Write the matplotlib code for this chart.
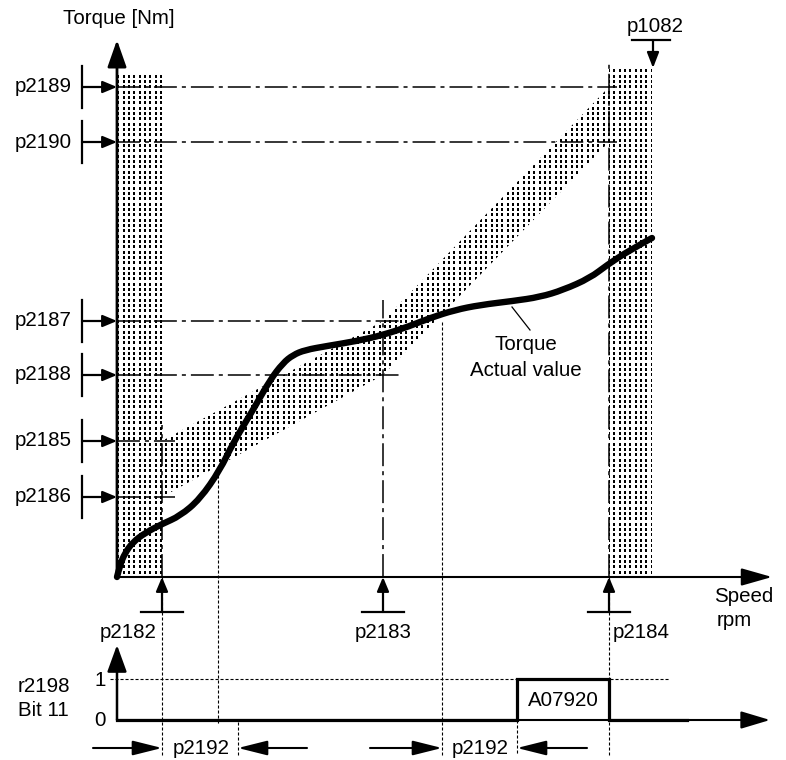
import numpy as np
import matplotlib
matplotlib.use("Agg")
import matplotlib.pyplot as plt
from matplotlib.patches import Polygon, PathPatch
from matplotlib.path import Path

plt.rcParams['font.family'] = ['Liberation Sans', 'DejaVu Sans']
plt.rcParams['lines.scale_dashes'] = False

# ---------------- data (schematic units: speed → x, torque → y) ----------------
torque_params = ["p2189", "p2190", "p2187", "p2188", "p2185", "p2186"]
torque_levels = [490, 435, 256, 202, 136, 80]
torque_line_ends = [500, 500, 283, 283, 58, 58]

speed_params = ["p2182", "p2183", "p2184"]
speed_levels = [45, 266, 492]
speed_max_param = "p1082"
speed_max = 535

# tolerance band corners (speed, lower torque, upper torque)
band_speed = [45, 266, 492]
band_upper = [136, 256, 490]
band_lower = [80, 202, 435]

# actual torque curve
curve_speed = [0, 3, 8, 16, 28, 45, 63, 83, 103, 116, 136, 153, 166, 176, 188, 210,
               240, 266, 293, 313, 338, 363, 396, 423, 446, 473, 490, 513, 535]
curve_torque = [0, 12, 24, 35, 44, 53, 61, 78, 107, 134, 167, 197, 214, 222, 227, 231,
                236, 242, 251, 259, 267, 272, 276, 280, 287, 299, 312, 327, 339]

# status bit r2198.11 (bottom diagram)
bit_speed = [0, 400, 400, 492, 492, 570]
bit_state = [0, 0, 1, 1, 0, 0]
alarm_text = "A07920"
delay_param = "p2192"
delay_windows = [(45, 121), (325, 400)]
crossing_speed = [101, 325]
crossing_torque = [107, 255]

# bottom diagram placement
BIT0 = -143
BIT_H = 41
BOT = -178

FS = 14.8
K = 'black'

fig = plt.figure(figsize=(7.86, 7.6), dpi=100)
ax = fig.add_axes([0, 0, 1, 1])
ax.axis('off')

def bit_y(v):
    return BIT0 + BIT_H * np.asarray(v, dtype=float)

# ---------------- stipple regions ----------------
H, W = 760, 786
tex = np.zeros((H, W, 4))
rr, cc = np.mgrid[0:H, 0:W]
on_r = np.isin(rr % 16, [0, 1, 2, 5, 6, 7, 11, 12, 13])
on_c = np.isin(cc % 16, [0, 1, 5, 6, 11, 12])
tex[on_r & on_c] = [0, 0, 0, 1]

regions = [
    [(0, 0), (46, 0), (46, 502), (0, 502)],
    [(speed_levels[2], 0), (speed_max, 0), (speed_max, 509), (speed_levels[2], 509)],
    list(zip(band_speed, band_upper)) + list(zip(band_speed[::-1], band_lower[::-1])),
]
for reg in regions:
    poly = Polygon(reg, closed=True, facecolor='none', edgecolor='none')
    ax.add_patch(poly)
    im = ax.imshow(tex, extent=(-117, 669, -183, 577), origin='upper',
                   interpolation='nearest', zorder=1, aspect='auto')
    im.set_clip_path(poly)

ax.set_xlim(-117, 669)
ax.set_ylim(-183, 577)

dashdot = (0, (16.5, 3.6, 2.9, 3.6))
dotted = (0, (2.2, 1.4))

def arrow(x0, y0, x1, y1, hl, hw, lw=1.5, z=5):
    ax.annotate('', xy=(x1, y1), xytext=(x0, y0),
                arrowprops=dict(arrowstyle=f'-|>,head_length={hl},head_width={hw}',
                                mutation_scale=10, lw=lw, color=K,
                                shrinkA=0, shrinkB=0), zorder=z)

# ---------------- torque thresholds ----------------
for name, lev, end in zip(torque_params, torque_levels, torque_line_ends):
    ax.plot([0, end], [lev, lev], color=K, lw=1.1, ls=dashdot, zorder=3)
    ax.plot([-35, -35], [lev - 21, lev + 21], color=K, lw=1.6, zorder=5)
    arrow(-35, lev, 0, lev, 0.86, 0.36, lw=1.6)
    ax.text(-45, lev, name, ha='right', va='center', fontsize=FS)

# ---------------- speed thresholds ----------------
vtops = [152, 277, 515]
for name, sp, top in zip(speed_params, speed_levels, vtops):
    ax.plot([sp, sp], [0, top], color=K, lw=1.1, ls=dashdot, zorder=3)
    ax.plot([sp - 21, sp + 21], [-35, -35], color=K, lw=1.6, zorder=5)
    arrow(sp, -35, sp, 0, 0.86, 0.36, lw=1.6)
ax.text(40, -55, speed_params[0], ha='right', va='center', fontsize=FS)
ax.text(266, -55, speed_params[1], ha='center', va='center', fontsize=FS)
ax.text(496, -55, speed_params[2], ha='left', va='center', fontsize=FS)

# p1082
ax.plot([515, 553], [537, 537], color=K, lw=1.6)
arrow(speed_max + 1, 537, speed_max + 1, 509, 0.93, 0.36, lw=1.6)
ax.text(538, 550, speed_max_param, ha='center', va='center', fontsize=FS)

# ---------------- axes ----------------
arrow(0, 0, 0, 537, 1.65, 0.58, lw=2.0, z=6)
arrow(0, 0, 655, 0, 1.9, 0.54, lw=1.5, z=6)
ax.text(2, 559, "Torque [Nm]", ha='center', va='center', fontsize=FS)
ax.text(597, -19, "Speed", ha='left', va='center', fontsize=FS)
ax.text(600, -43, "rpm", ha='left', va='center', fontsize=FS)

# ---------------- curve (smooth quadratic path through read points) ----------------
P = np.column_stack([curve_speed, curve_torque]).astype(float)
verts = [P[0]]
codes = [Path.MOVETO]
n = len(P)
for i in range(1, n - 1):
    end = P[i + 1] if i == n - 2 else (P[i] + P[i + 1]) / 2
    verts += [P[i], end]
    codes += [Path.CURVE3, Path.CURVE3]
ax.add_patch(PathPatch(Path(verts, codes), facecolor='none', edgecolor=K, lw=4.6,
                       capstyle='round', joinstyle='round', zorder=7))
ax.plot([395, 413], [270, 247], color=K, lw=0.9, zorder=7)
ax.text(409, 232, "Torque", ha='center', va='center', fontsize=FS)
ax.text(409, 207, "Actual value", ha='center', va='center', fontsize=FS)

# ---------------- thin dotted verticals ----------------
for sp in [speed_levels[0], speed_levels[2]]:
    ax.plot([sp, sp], [0, BOT], color=K, lw=0.8, ls=dotted, zorder=2)
ax.plot([crossing_speed[0]] * 2, [crossing_torque[0], BIT0 - 5], color=K, lw=0.8, ls=dotted, zorder=2)
ax.plot([crossing_speed[1]] * 2, [crossing_torque[1], BOT], color=K, lw=0.8, ls=dotted, zorder=2)
ax.plot([delay_windows[0][1]] * 2, [BIT0 - 2, BOT], color=K, lw=0.8, ls=dotted, zorder=2)
ax.plot([delay_windows[1][1]] * 2, [BIT0, BOT], color=K, lw=0.8, ls=dotted, zorder=2)

# ---------------- bottom bit diagram ----------------
arrow(0, BIT0, 0, BIT0 + 75, 1.65, 0.6, lw=1.8, z=6)
arrow(0, BIT0, 653, BIT0, 1.8, 0.54, lw=1.5, z=6)
ax.plot([-7, 553], [bit_y(1), bit_y(1)], color=K, lw=0.8, ls=dotted, zorder=2)
ax.plot(bit_speed, bit_y(bit_state), color=K, lw=2.3, zorder=7, solid_joinstyle='miter')
ax.text(446, BIT0 + 20, alarm_text, ha='center', va='center', fontsize=FS)
ax.text(-17, bit_y(1) - 2, "1", ha='center', va='center', fontsize=FS)
ax.text(-17, bit_y(0) - 1, "0", ha='center', va='center', fontsize=FS)
ax.text(-99, -110, "r2198", ha='left', va='center', fontsize=FS)
ax.text(-99, -134, "Bit 11", ha='left', va='center', fontsize=FS)

# delay arrows
ya = -171
for (a, b), lstart, rend in zip(delay_windows, [-24, 253], [190, 470]):
    arrow(lstart, ya, a, ya, 1.8, 0.45, lw=1.5)
    arrow(rend, ya, b, ya, 1.8, 0.45, lw=1.5)
    ax.text((a + b) / 2 + 1, ya - 1, delay_param, ha='center', va='center', fontsize=FS)

fig.savefig("out.png", dpi=100, facecolor='white')
